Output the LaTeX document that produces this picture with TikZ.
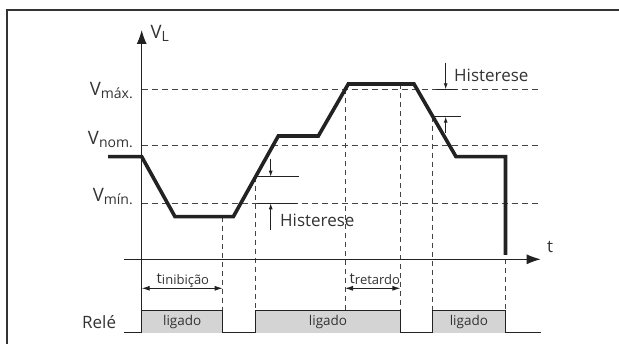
\documentclass[tikz,border=0pt]{standalone}
\usepackage{fontspec}
\setmainfont{Open Sans}
\usetikzlibrary{arrows.meta}
\definecolor{ink}{HTML}{222222}
\definecolor{txt}{HTML}{333333}
\definecolor{guide}{HTML}{444444}
\definecolor{relayfill}{HTML}{D4D4D4}
\newcommand{\mainsz}{\fontsize{17pt}{17pt}\selectfont}
\newcommand{\subsz}{\fontsize{13pt}{13pt}\selectfont}
\newcommand{\Vlab}[1]{{\fontsize{18.5pt}{18.5pt}\selectfont V}\raisebox{-3pt}{\fontsize{14pt}{14pt}\selectfont #1}}
\newcommand{\Tlab}[1]{{\fontsize{15pt}{15pt}\selectfont t}\raisebox{-1.5pt}{\subsz #1}}
\tikzset{
  sig/.style={line width=3.6pt, draw=ink, line join=miter},
  guideline/.style={draw=guide, line width=0.9pt, dash pattern=on 6pt off 4pt},
  vguide/.style={draw=guide, line width=0.9pt, dash pattern=on 5pt off 4pt},
  axisline/.style={draw=ink, line width=1pt},
  thinline/.style={draw=ink, line width=0.9pt},
  lbl/.style={inner sep=0pt, text=txt, font=\mainsz},
  boxlbl/.style={inner sep=0pt, text=txt, font=\fontsize{13.5pt}{13.5pt}\selectfont},
  bigtip/.style={-{Latex[length=14pt,width=10pt]}},
  smalltip/.style={-{Latex[length=6pt,width=4pt]}},
  spantip/.style={{Latex[length=8pt,width=5pt]}-{Latex[length=8pt,width=5pt]}},
  relay/.style={draw=ink, line width=1.2pt},
}
\begin{document}
\begin{tikzpicture}[x=1pt,y=-1pt]
\useasboundingbox (0,0) rectangle (619,344);

% open frame: top and left edges only
\draw[draw=txt, line width=1.3pt] (7,344) -- (7,10) -- (619,10);

% key points
\coordinate (vtop) at (141.7,30);
\coordinate (vbot) at (141.7,310.7);
\coordinate (tleft) at (124,259.3);
\coordinate (tright) at (540.7,259.3);

% level guides
\foreach \yy/\nm in {89.3/max,145/nom,203.3/min}{
  \coordinate (\nm L) at (141.7,\yy);
  \coordinate (\nm R) at (540.7,\yy);
  \draw[guideline] (\nm L) -- (\nm R);
}

% vertical time guides
\foreach \xx/\yy/\nm in {222.7/216.7/a, 255.7/176.7/b, 345/89.3/c, 400.4/84/d, 432.3/116.7/e, 505.5/259.3/f}{
  \coordinate (g\nm T) at (\xx,\yy);
  \coordinate (g\nm B) at (\xx,310.7);
  \draw[vguide] (g\nm T) -- (g\nm B);
}

% axes
\draw[axisline, bigtip] (vbot) -- (vtop);
\draw[axisline, bigtip] (tleft) -- (tright);
\node[lbl, anchor=base west] (vl) at (150.5,39) {\Vlab{L}};
\node[lbl, anchor=base west] (tl) at (547,252.7) {t};

% level labels
\node[lbl, anchor=base east] (lmax) at (133,95.5) {\Vlab{máx.}};
\node[lbl, anchor=base east] (lnom) at (133,144.5) {\Vlab{nom.}};
\node[lbl, anchor=base east] (lmin) at (133,202) {\Vlab{mín.}};

% supply voltage
\draw[sig] (108,156.7) -- (141.7,156.7) -- (175,216.7) -- (233.3,216.7)
  -- (278.3,136) -- (318.3,136) -- (348.3,84) -- (414,84)
  -- (456,156.7) -- (505.5,156.7) -- (505.5,255);

% hysteresis around the lower threshold
\coordinate (hla) at (255.7,176.7);
\coordinate (hlb) at (299,176.7);
\draw[thinline] (hla) -- (hlb);
\draw[thinline] (257,203.3) -- (297,203.3);
\draw[thinline, smalltip] (270.7,159.3) -- (270.7,176.7);
\draw[thinline, smalltip] (270.7,230) -- (270.7,203.3);
\node[lbl, anchor=base west] (hyl) at (280,226.7) {Histerese};

% hysteresis around the upper threshold
\draw[thinline] (433,116.7) -- (460.7,116.7);
\draw[thinline] (436,89.3) -- (457,89.3);
\draw[thinline, smalltip] (445.7,62.7) -- (445.7,89.3);
\draw[thinline, smalltip] (445.7,133) -- (445.7,116.7);
\node[lbl, anchor=base west] (hyu) at (454,82) {Histerese};

% delay spans
\draw[thinline, spantip] (141.7,288.3) -- (222.7,288.3);
\node[lbl, anchor=base west] (tinib) at (156.5,283.5) {\Tlab{inibição}};
\draw[thinline, spantip] (345,288.3) -- (400.4,288.3);
\node[lbl, anchor=base west] (tret) at (349.5,283.5) {\Tlab{retardo}};

% relay state
\fill[relayfill] (141.7,310.7) rectangle (222.7,332.7);
\fill[relayfill] (255.7,310.7) rectangle (400.4,332.7);
\fill[relayfill] (432.3,310.7) rectangle (505.5,332.7);
\draw[relay] (124,332.7) -- (141.7,332.7) -- (141.7,310.7) -- (222.7,310.7)
  -- (222.7,332.7) -- (255.7,332.7) -- (255.7,310.7) -- (400.4,310.7)
  -- (400.4,332.7) -- (432.3,332.7) -- (432.3,310.7) -- (505.5,310.7)
  -- (505.5,332.7) -- (540.7,332.7);
\node[lbl, anchor=base west] (rele) at (82,328.3) {Relé};
\node[boxlbl] (on1) at (182.2,321.7) {ligado};
\node[boxlbl] (on2) at (328,321.7) {ligado};
\node[boxlbl] (on3) at (468.9,321.7) {ligado};
\end{tikzpicture}
\end{document}
